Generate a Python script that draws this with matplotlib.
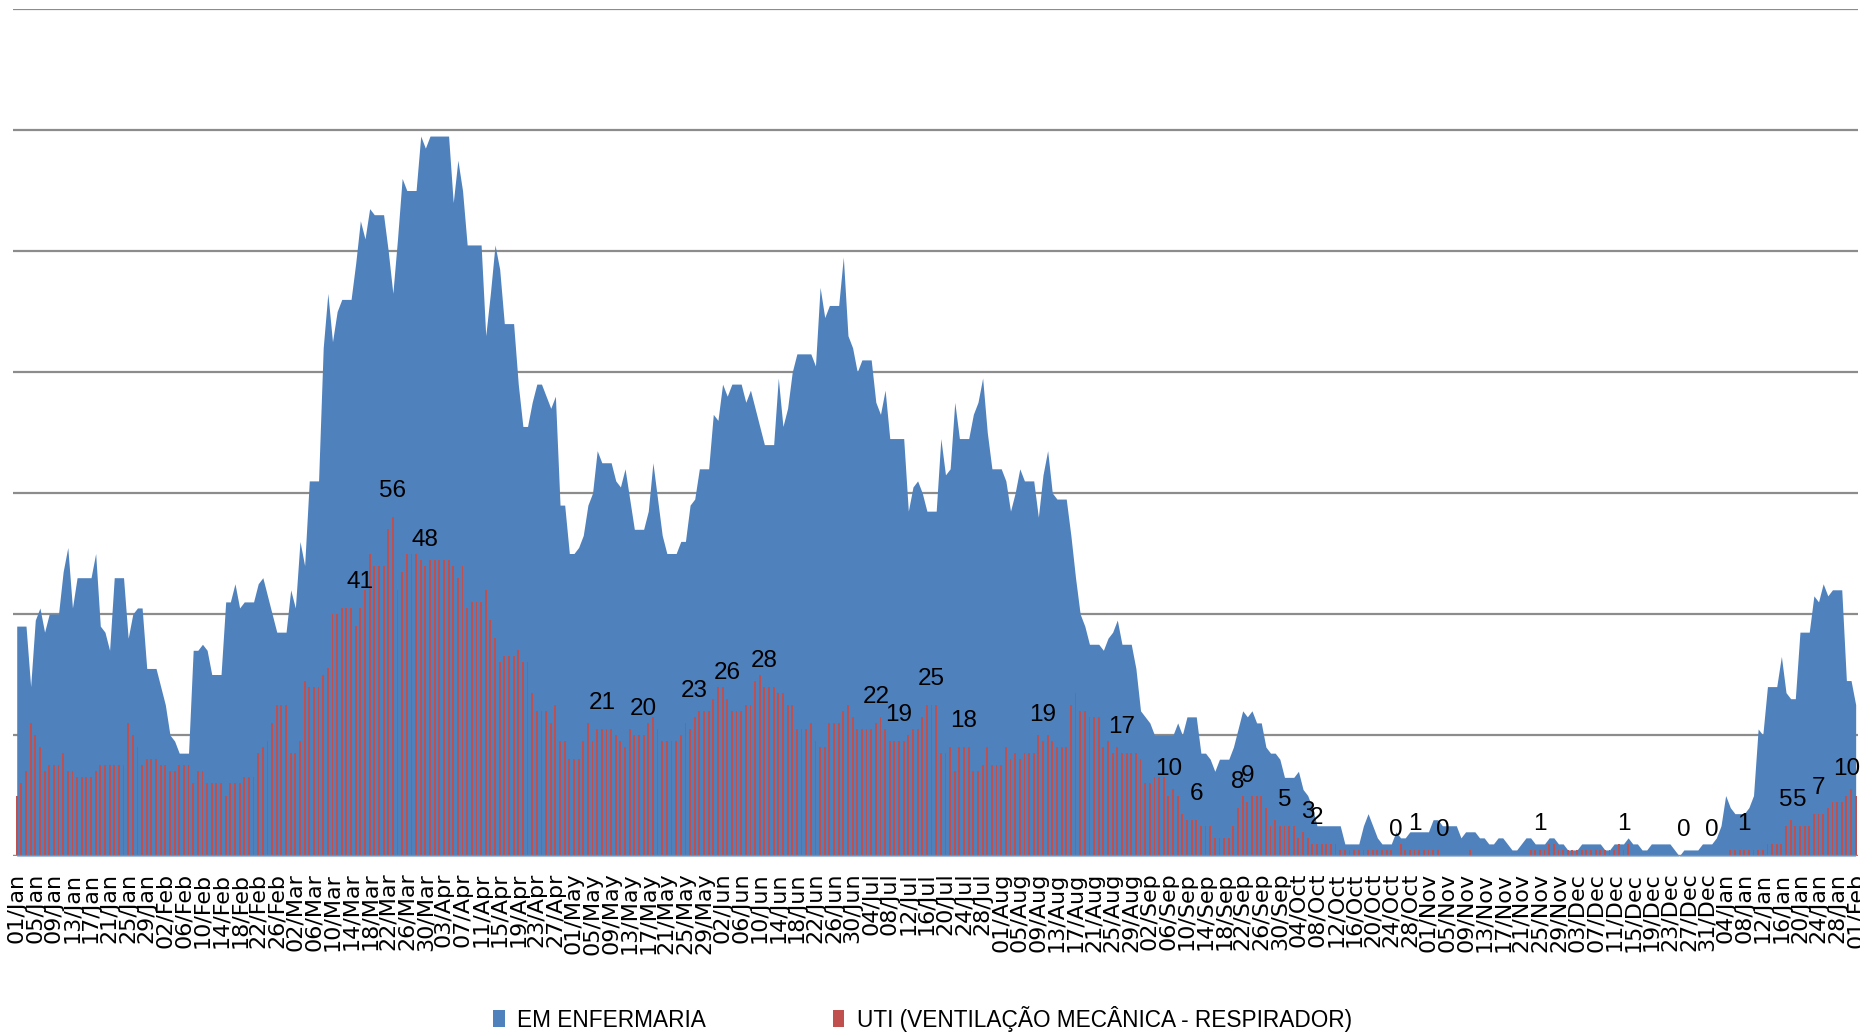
import matplotlib
matplotlib.use("Agg")
import matplotlib.pyplot as plt
import numpy as np
import pandas as pd
from matplotlib import font_manager
from matplotlib.patches import Patch

dates = pd.date_range("2021-01-01", "2022-02-01", freq="D")

# EM ENFERMARIA (area), one value per day
enfermaria = [
    38, 38, 38, 28, 39, 41, 37, 40, 40, 40,
    47, 51, 41, 46, 46, 46, 46, 50, 38, 37,
    34, 46, 46, 46, 36, 40, 41, 41, 31, 31,
    31, 28, 25, 20, 19, 17, 17, 17, 34, 34,
    35, 34, 30, 30, 30, 42, 42, 45, 41, 42,
    42, 42, 45, 46, 43, 40, 37, 37, 37, 44,
    41, 52, 48, 62, 62, 62, 84, 93, 85, 90,
    92, 92, 92, 98, 105, 102, 107, 106, 106, 106,
    100, 93, 102, 112, 110, 110, 110, 119, 117, 119,
    119, 119, 119, 119, 108, 115, 110, 101, 101, 101,
    101, 86, 93, 101, 97, 88, 88, 88, 78, 71,
    71, 75, 78, 78, 76, 74, 76, 58, 58, 50,
    50, 51, 53, 58, 60, 67, 65, 65, 65, 62,
    61, 64, 59, 54, 54, 54, 57, 65, 59, 53,
    50, 50, 50, 52, 52, 58, 59, 64, 64, 64,
    73, 72, 78, 76, 78, 78, 78, 75, 77, 74,
    71, 68, 68, 68, 79, 71, 74, 80, 83, 83,
    83, 83, 81, 94, 89, 91, 91, 91, 99, 86,
    84, 80, 82, 82, 82, 75, 73, 77, 69, 69,
    69, 69, 57, 61, 62, 60, 57, 57, 57, 69,
    63, 64, 75, 69, 69, 69, 73, 75, 79, 70,
    64, 64, 64, 62, 57, 60, 64, 62, 62, 62,
    56, 63, 67, 60, 59, 59, 59, 53, 46, 40,
    38, 35, 35, 35, 34, 36, 37, 39, 35, 35,
    35, 31, 24, 23, 22, 20, 20, 20, 20, 20,
    22, 20, 23, 23, 23, 17, 17, 16, 14, 16,
    16, 16, 18, 21, 24, 23, 24, 22, 22, 18,
    17, 17, 16, 13, 13, 13, 14, 11, 10, 8,
    5, 5, 5, 5, 5, 5, 2, 2, 2, 2,
    5, 7, 5, 3, 2, 2, 2, 4, 3, 3,
    4, 4, 4, 4, 4, 6, 6, 5, 5, 5,
    5, 3, 4, 4, 4, 3, 3, 2, 2, 3,
    3, 2, 1, 1, 2, 3, 3, 2, 2, 2,
    3, 3, 2, 2, 1, 1, 1, 2, 2, 2,
    2, 2, 1, 1, 2, 2, 2, 3, 2, 2,
    1, 1, 2, 2, 2, 2, 2, 1, 0, 1,
    1, 1, 1, 2, 2, 2, 3, 5, 10, 8,
    7, 7, 7, 8, 10, 21, 20, 28, 28, 28,
    33, 27, 26, 26, 37, 37, 37, 43, 42, 45,
    43, 44, 44, 44, 29, 29, 25,
]

# UTI (ventilacao mecanica) bars, one value per day
uti = [
    10, 12, 14, 22, 20, 18, 14, 15, 15, 15,
    17, 14, 14, 13, 13, 13, 13, 14, 15, 15,
    15, 15, 15, 15, 22, 20, 18, 15, 16, 16,
    16, 15, 15, 14, 14, 15, 15, 15, 12, 14,
    14, 12, 12, 12, 12, 10, 12, 12, 12, 13,
    13, 13, 17, 18, 19, 22, 25, 25, 25, 17,
    17, 19, 29, 28, 28, 28, 30, 31, 40, 40,
    41, 41, 41, 38, 41, 44, 50, 48, 48, 48,
    54, 56, 44, 47, 50, 50, 50, 49, 48, 49,
    49, 49, 49, 49, 48, 46, 48, 41, 42, 42,
    42, 44, 39, 36, 32, 33, 33, 33, 34, 32,
    32, 27, 24, 24, 24, 22, 25, 19, 19, 16,
    16, 16, 19, 22, 19, 21, 21, 21, 21, 20,
    19, 18, 21, 20, 20, 20, 22, 23, 21, 19,
    19, 19, 19, 20, 22, 21, 23, 24, 24, 24,
    26, 28, 28, 26, 24, 24, 24, 25, 25, 29,
    30, 28, 28, 28, 27, 27, 25, 25, 21, 21,
    21, 22, 19, 18, 18, 22, 22, 22, 24, 25,
    23, 21, 21, 21, 21, 22, 23, 21, 19, 19,
    19, 19, 20, 21, 21, 23, 25, 25, 25, 17,
    17, 18, 14, 18, 18, 18, 14, 14, 15, 18,
    15, 15, 15, 18, 16, 17, 16, 17, 17, 17,
    20, 19, 20, 19, 18, 18, 18, 25, 27, 24,
    24, 23, 23, 23, 18, 19, 17, 18, 17, 17,
    17, 17, 16, 12, 12, 13, 13, 13, 10, 11,
    10, 7, 6, 6, 6, 5, 5, 5, 3, 3,
    3, 3, 5, 8, 10, 9, 10, 10, 10, 8,
    5, 6, 5, 5, 5, 5, 3, 4, 3, 2,
    2, 2, 2, 2, 2, 1, 1, 1, 1, 1,
    1, 1, 1, 1, 1, 1, 1, 0, 2, 1,
    1, 1, 1, 1, 1, 1, 1, 0, 0, 0,
    0, 0, 0, 1, 0, 0, 0, 0, 0, 0,
    0, 0, 0, 0, 0, 0, 1, 1, 1, 1,
    2, 2, 1, 1, 1, 1, 1, 1, 1, 1,
    1, 1, 1, 1, 1, 2, 1, 2, 0, 0,
    0, 0, 0, 0, 0, 0, 0, 0, 0, 0,
    0, 0, 0, 0, 0, 0, 0, 0, 0, 1,
    1, 1, 1, 1, 1, 1, 1, 2, 2, 2,
    2, 5, 6, 5, 5, 5, 5, 7, 7, 7,
    8, 9, 9, 9, 10, 11, 10,
]

# days that carry a data label on the UTI series
label_days = [74, 81, 88, 126, 135, 146, 153, 161, 185, 190, 197, 204, 221,
              238, 248, 254, 263, 265, 273, 278, 280, 297, 301, 307, 328,
              346, 359, 365, 372, 381, 384, 388, 394]

BLUE = "#4F81BD"
RED = "#C0504D"
GRID = "#8C8C8C"

names = {f.name for f in font_manager.fontManager.ttflist}
legend_font = "Liberation Sans Narrow" if "Liberation Sans Narrow" in names else "Liberation Sans"

x = np.arange(len(dates))

fig = plt.figure(figsize=(18.6, 10.33), dpi=100)
ax = fig.add_axes([13 / 1860, 177 / 1033, 1845 / 1860, 847 / 1033])

ax.fill_between(x, 0, enfermaria, color=BLUE, linewidth=0, zorder=2)
ax.bar(x, uti, width=0.4, color=RED, linewidth=0, zorder=3)

for d in label_days:
    ax.text(d, uti[d] + 4.3, str(uti[d]), ha="center", va="center",
            fontsize=17.5, family="Liberation Sans", zorder=5)

ax.set_xlim(-0.8, len(dates) - 0.5)
ax.set_ylim(0, 140)
ax.set_yticks(np.arange(0, 141, 20))
ax.yaxis.grid(True, color=GRID, linewidth=1.6, zorder=0)
ax.set_axisbelow(True)
ax.tick_params(axis="y", left=False, labelleft=False)
ax.axhline(0, color=GRID, linewidth=1.6, zorder=4)
for s in ax.spines.values():
    s.set_visible(False)

tick_idx = list(range(0, len(dates), 4))
ax.set_xticks(tick_idx)
ax.set_xticklabels([dates[i].strftime("%d/%b") for i in tick_idx],
                   rotation=90, fontsize=16, family="DejaVu Sans")
ax.tick_params(axis="x", length=0, pad=12)

size = 19.5 if legend_font == "Liberation Sans Narrow" else 16.3
handles = [Patch(facecolor=BLUE, edgecolor="none"), Patch(facecolor=RED, edgecolor="none")]
fig.legend(handles, ["EM ENFERMARIA", "UTI (VENTILAÇÃO MECÂNICA - RESPIRADOR)"],
           loc="center", bbox_to_anchor=(0.496, 0.014), ncol=2, frameon=False,
           prop={"family": legend_font, "size": size},
           handlelength=0.5, handleheight=0.75, handletextpad=0.55,
           columnspacing=5.6, borderpad=0, borderaxespad=0)

fig.savefig("out.png", dpi=100)
